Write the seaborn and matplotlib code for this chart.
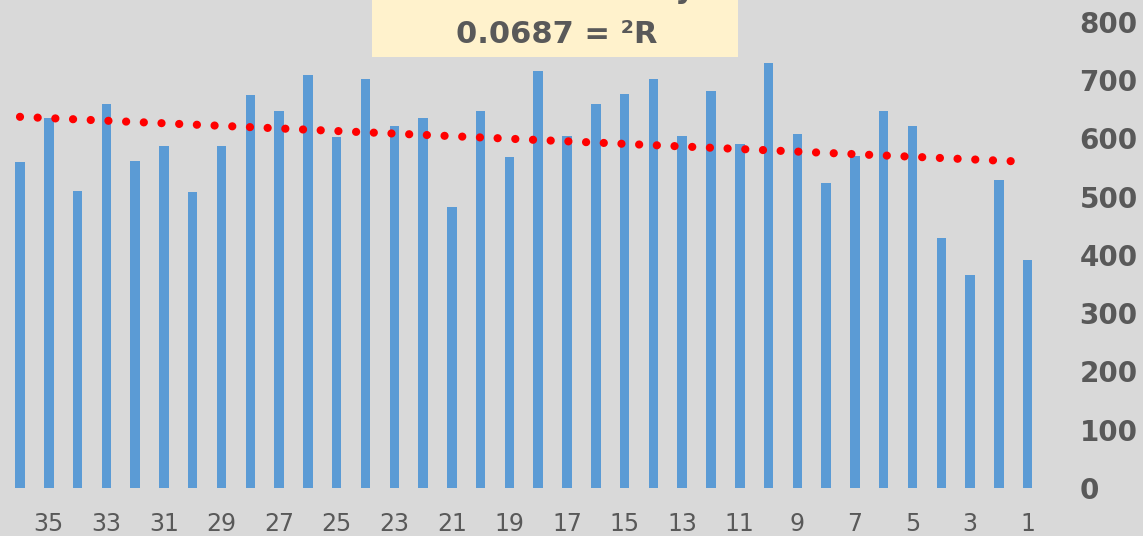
import pandas as pd
import numpy as np
import seaborn as sns
import matplotlib.pyplot as plt
from matplotlib.patches import Rectangle

categories = list(range(1, 37))
values = [391, 528, 366, 429, 622, 647, 570, 523, 607, 729,
          590, 682, 605, 702, 676, 659, 605, 716, 568, 647,
          483, 635, 622, 702, 603, 709, 647, 674, 587, 508,
          587, 562, 659, 510, 635, 560]
x_ticks = list(range(35, 0, -2))
y_ticks = list(range(0, 801, 100))
eq_text = "557.27 + 2.2271x = y"
r2_text = "0.0687 = ²R"

df = pd.DataFrame({"category": categories, "value": values})

sns.set_style("white")
plt.rcParams['font.family'] = ['DejaVu Sans']

bg = "#D9D9D9"
txt = "#595959"

fig = plt.figure(figsize=(11.43, 5.36), dpi=100, facecolor=bg)
ax = fig.add_axes([0.0049, 0.0896, 0.9068, 0.8694])
ax.set_facecolor(bg)

sns.barplot(data=df, x="category", y="value", native_scale=True, width=0.33,
            color="#5B9BD5", saturation=1, errorbar=None, linewidth=0, ax=ax)
# dotted linear trendline, like the excel one
sns.regplot(data=df, x="category", y="value", scatter=False, ci=None, truncate=True,
            line_kws=dict(color="red", lw=5.9, linestyle=(0.086, (0.01, 2.151)),
                          dash_capstyle="round"), ax=ax)

ax.set_xlim(36.5, 0.5)
ax.set_ylim(0, 800)
ax.set_xticks(x_ticks)
ax.set_xticklabels([str(t) for t in x_ticks], fontsize=17, color=txt)
ax.yaxis.tick_right()
ax.set_yticks(y_ticks)
ax.set_yticklabels([str(t) for t in y_ticks], fontsize=20, color=txt, fontweight="bold")
ax.tick_params(axis="x", length=0, pad=17)
ax.tick_params(axis="y", length=0, pad=27)
ax.set_xlabel("")
ax.set_ylabel("")
ax.grid(False)
for s in ax.spines.values():
    s.set_visible(False)

fig.patches.append(Rectangle((0.3255, 0.8937), 0.3202, 0.2, transform=fig.transFigure,
                             facecolor="#FFF2CC", edgecolor="none", zorder=5))
fig.text(0.608, 1.004, eq_text, ha="right", va="baseline", fontsize=22,
         fontweight="bold", color=txt, zorder=6)
fig.text(0.487, 0.9198, r2_text, ha="center", va="baseline", fontsize=22,
         fontweight="bold", color=txt, zorder=6)

fig.savefig("out.png", dpi=100, facecolor=bg)
